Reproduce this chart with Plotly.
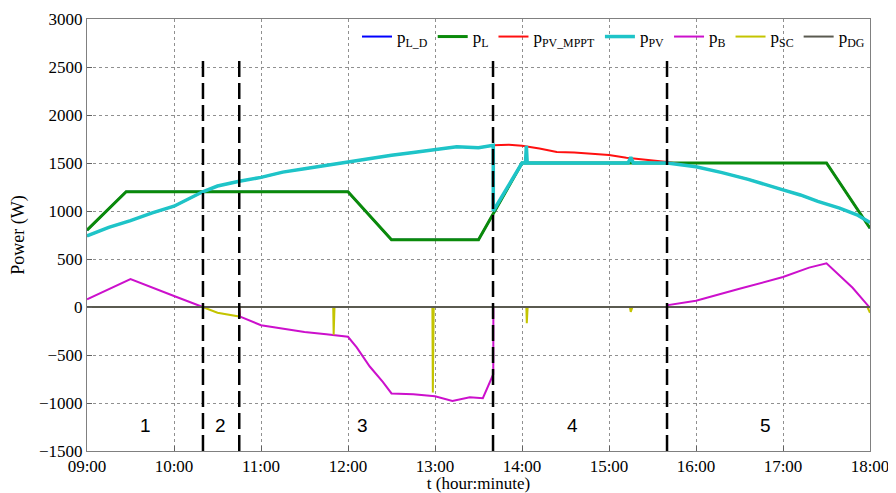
import plotly.graph_objects as go

# ---------------- data (hours, W) ----------------
t_load = [9.0, 9.45, 12.0, 12.5, 13.5, 14.0, 17.5, 18.0]
p_load_demand = [800, 1200, 1200, 700, 700, 1500, 1500, 820]
p_load = [800, 1200, 1200, 700, 700, 1500, 1500, 820]

t_mppt = [9.0, 9.25, 9.5, 9.75, 10.0, 10.33, 10.5, 10.75, 11.0, 11.25, 11.5, 11.75,
          12.0, 12.25, 12.5, 12.75, 13.0, 13.25, 13.5, 13.67, 13.85, 14.0, 14.2, 14.4,
          14.6, 14.8, 15.0, 15.2, 15.4, 15.67, 16.0, 16.3, 16.6, 17.0, 17.2, 17.4,
          17.65, 17.85, 18.0]
p_pv_mppt = [740, 830, 900, 980, 1050, 1200, 1260, 1310, 1350, 1405, 1440, 1475,
             1510, 1550, 1580, 1610, 1640, 1670, 1660, 1685, 1690, 1680, 1650, 1614,
             1610, 1600, 1583, 1555, 1535, 1510, 1460, 1400, 1330, 1220, 1167, 1100,
             1030, 960, 880]

t_pv = [9.0, 9.25, 9.5, 9.75, 10.0, 10.33, 10.5, 10.75, 11.0, 11.25, 11.5, 11.75,
        12.0, 12.25, 12.5, 12.75, 13.0, 13.25, 13.5, 13.67, 13.67, 14.0, 14.04, 14.05,
        14.06, 15.22, 15.25, 15.28, 15.67, 16.0, 16.3, 16.6, 17.0, 17.2, 17.4, 17.65,
        17.85, 18.0]
p_pv = [740, 830, 900, 980, 1050, 1200, 1260, 1310, 1350, 1405, 1440, 1475,
        1510, 1550, 1580, 1610, 1640, 1670, 1660, 1685, 1000, 1500, 1500, 1680,
        1500, 1500, 1560, 1500, 1500, 1460, 1400, 1330, 1220, 1167, 1100, 1030,
        960, 880]

t_bat = [9.0, 9.5, 10.0, 10.33, 10.75, 10.76, 11.0, 11.3, 11.5, 11.75, 12.0, 12.1,
         12.25, 12.4, 12.5, 12.75, 13.0, 13.2, 13.4, 13.55, 13.67, 13.671, 15.67,
         15.68, 16.0, 16.5, 17.0, 17.3, 17.5, 17.8, 18.0]
p_bat = [80, 290, 115, 0, 0, -100, -190, -230, -260, -285, -310, -420,
         -620, -780, -900, -910, -930, -980, -940, -950, -700, 0, 0,
         20, 66, 190, 312, 410, 455, 200, -10]

t_sc = [9.0, 10.33, 10.5, 10.75, 10.751, 11.83, 11.835, 11.845, 12.97, 12.975, 12.985,
        14.05, 14.055, 14.065, 15.24, 15.25, 15.27, 17.97, 18.0]
p_sc = [0, 0, -60, -100, 0, 0, -290, 0, 0, -890, 0,
        0, -170, 0, 0, -50, 0, 0, -60]

t_dg = [9.0, 18.0]
p_dg = [0, 0]

event_times = [10.333, 10.75, 13.667, 15.667]
region_labels = ["1", "2", "3", "4", "5"]
region_x = [9.67, 10.54, 12.17, 14.58, 16.8]

tick_vals = [9, 10, 11, 12, 13, 14, 15, 16, 17, 18]
tick_text = ["09:00", "10:00", "11:00", "12:00", "13:00", "14:00", "15:00",
             "16:00", "17:00", "18:00"]

SERIF = "Liberation Serif, Times New Roman, serif"

# ---------------- figure ----------------
fig = go.Figure()
series = [
    ("p<sub>L_D</sub>", t_load, p_load_demand, "#0000ff", 2),
    ("p<sub>L</sub>", t_load, p_load, "#0a8a0a", 3),
    ("p<sub>PV_MPPT</sub>", t_mppt, p_pv_mppt, "#ff1010", 2),
    ("p<sub>PV</sub>", t_pv, p_pv, "#1ec4c8", 3.5),
    ("p<sub>B</sub>", t_bat, p_bat, "#cc10cc", 2),
    ("p<sub>SC</sub>", t_sc, p_sc, "#c4c400", 2),
    ("p<sub>DG</sub>", t_dg, p_dg, "#5a5a50", 2),
]
for name, x, y, c, w in series:
    fig.add_trace(go.Scatter(x=x, y=y, mode="lines", name=name,
                             line=dict(color=c, width=w)))

for t in event_times:
    fig.add_shape(type="line", x0=t, x1=t, y0=-1500, y1=2570, xref="x", yref="y",
                  line=dict(color="black", width=2.5, dash="16px,6px"))

for lab, x in zip(region_labels, region_x):
    fig.add_annotation(x=x, y=-1230, text=lab, showarrow=False,
                       font=dict(family="Liberation Sans, Arial, sans-serif", size=19,
                                 color="black"))

axis_common = dict(showline=True, linecolor="#808080", linewidth=1, mirror=True,
                   showgrid=True, gridcolor="#909090", griddash="dot", gridwidth=1,
                   ticks="inside", ticklen=5, tickcolor="#606060", zeroline=False,
                   automargin=False,
                   tickfont=dict(family=SERIF, size=17, color="black"))

# the page adds an 8px body margin, so the figure is sized 888x485
fig.update_layout(
    width=888, height=485,
    margin=dict(l=79, r=26, t=11, b=42),
    paper_bgcolor="white", plot_bgcolor="white",
    font=dict(family=SERIF, size=17, color="black"),
    showlegend=True,
    legend=dict(orientation="h", x=1.0, xanchor="right", y=1.0, yanchor="top",
                bgcolor="rgba(255,255,255,0)", font=dict(family=SERIF, size=17),
                itemwidth=30, tracegroupgap=0),
)
fig.update_xaxes(range=[9, 18], tickvals=tick_vals, ticktext=tick_text,
                 title=dict(text="t (hour:minute)", standoff=0,
                            font=dict(family=SERIF, size=17)),
                 **axis_common)
fig.update_yaxes(range=[-1500, 3000], dtick=500,
                 title=dict(text="Power (W)", standoff=10,
                            font=dict(family=SERIF, size=18)),
                 **axis_common)

fig.write_html("out.html")
